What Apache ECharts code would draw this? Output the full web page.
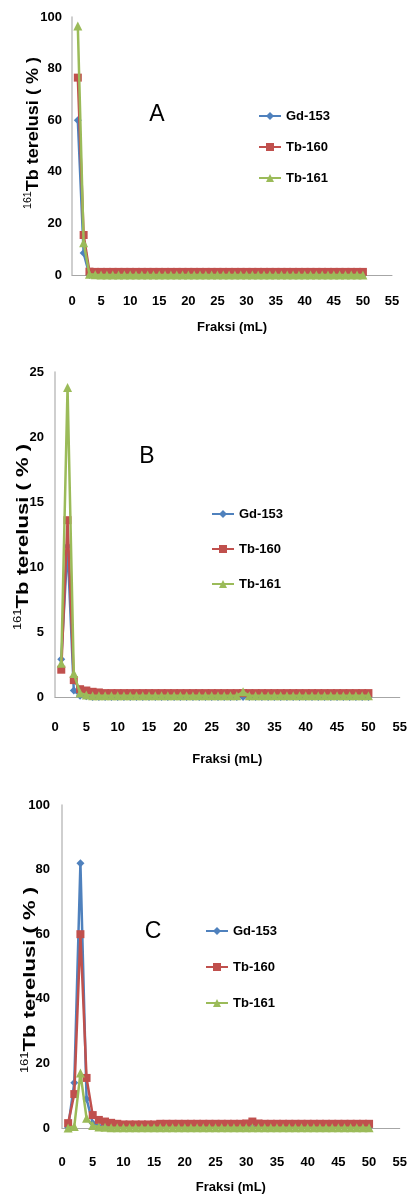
<!DOCTYPE html>
<html>
<head>
<meta charset="utf-8">
<script src="https://cdn.jsdelivr.net/npm/echarts@6/dist/echarts.min.js"></script>
<style>
html,body{margin:0;padding:0;background:#fff;}
#c{width:410px;height:1197px;}
</style>
</head>
<body>
<div id="c"></div>
<script>
// ---- data ----
var fractions = [1,2,3,4,5,6,7,8,9,10,11,12,13,14,15,16,17,18,19,20,21,22,23,24,25,26,27,28,29,30,31,32,33,34,35,36,37,38,39,40,41,42,43,44,45,46,47,48,49,50];
var seriesNames = ['Gd-153','Tb-160','Tb-161'];
var xTicks = [0,5,10,15,20,25,30,35,40,45,50,55];

// Panel A
var gdA    = [60,8.5,0,0,0,0,0,0,0,0,0,0,0,0,0,0,0,0,0,0,0,0,0,0,0,0,0,0,0,0,0,0,0,0,0,0,0,0,0,0,0,0,0,0,0,0,0,0,0,0];
var tb160A = [76.5,15.5,1.3,1.2,1.2,1.2,1.2,1.2,1.2,1.2,1.2,1.2,1.2,1.2,1.2,1.2,1.2,1.2,1.2,1.2,1.2,1.2,1.2,1.2,1.2,1.2,1.2,1.2,1.2,1.2,1.2,1.2,1.2,1.2,1.2,1.2,1.2,1.2,1.2,1.2,1.2,1.2,1.2,1.2,1.2,1.2,1.2,1.2,1.2,1.2];
var tb161A = [96.5,12.5,0.3,0.1,0,0,0,0,0,0,0,0,0,0,0,0,0,0,0,0,0,0,0,0,0,0,0,0,0,0,0,0,0,0,0,0,0,0,0,0,0,0,0,0,0,0,0,0,0,0];

// Panel B
var gdB    = [2.9,11.6,0.5,0.1,0.05,0,0,0,0,0,0,0,0,0,0,0,0,0,0,0,0,0,0,0,0,0,0,0,0,0,0,0,0,0,0,0,0,0,0,0,0,0,0,0,0,0,0,0,0,0];
var tb160B = [2.1,13.6,1.3,0.6,0.5,0.4,0.35,0.3,0.3,0.3,0.3,0.3,0.3,0.3,0.3,0.3,0.3,0.3,0.3,0.3,0.3,0.3,0.3,0.3,0.3,0.3,0.3,0.3,0.3,0.3,0.3,0.3,0.3,0.3,0.3,0.3,0.3,0.3,0.3,0.3,0.3,0.3,0.3,0.3,0.3,0.3,0.3,0.3,0.3,0.3];
var tb161B = [2.6,23.8,1.8,0.3,0.15,0.1,0.1,0.1,0.1,0.1,0.1,0.1,0.1,0.1,0.1,0.1,0.1,0.1,0.1,0.1,0.1,0.1,0.1,0.1,0.1,0.1,0.1,0.1,0.1,0.4,0.1,0.1,0.1,0.1,0.1,0.1,0.1,0.1,0.1,0.1,0.1,0.1,0.1,0.1,0.1,0.1,0.1,0.1,0.1,0.1];

// Panel C
var gdC    = [0.2,14,82,9,1.5,0.5,0.3,0.2,0.2,0.2,0.2,0.2,0.2,0.2,0.2,0.2,0.2,0.2,0.2,0.2,0.2,0.2,0.2,0.2,0.2,0.2,0.2,0.2,0.2,0.2,0.2,0.2,0.2,0.2,0.2,0.2,0.2,0.2,0.2,0.2,0.2,0.2,0.2,0.2,0.2,0.2,0.2,0.2,0.2,0.2];
var tb160C = [1.5,10.5,60,15.5,4,2.5,2,1.6,1.3,1.1,1.1,1.1,1.1,1.1,1.1,1.3,1.3,1.3,1.3,1.3,1.3,1.3,1.3,1.3,1.3,1.3,1.3,1.3,1.3,1.4,2,1.4,1.3,1.3,1.3,1.3,1.3,1.3,1.3,1.3,1.3,1.3,1.3,1.3,1.3,1.3,1.3,1.3,1.3,1.3];
var tb161C = [0,0.5,17,3,0.8,0.3,0.2,0.1,0.1,0.1,0.1,0.1,0.1,0.1,0.1,0.1,0.1,0.1,0.1,0.1,0.1,0.1,0.1,0.1,0.1,0.1,0.1,0.1,0.1,0.1,0.1,0.1,0.1,0.1,0.1,0.1,0.1,0.1,0.1,0.1,0.1,0.1,0.1,0.1,0.1,0.1,0.1,0.1,0.1,0.1];

var yTicksA = [0,20,40,60,80,100];
var yTicksB = [0,5,10,15,20,25];
var yTicksC = [0,20,40,60,80,100];

// ---- chart ----
var colors = ['#4F81BD','#C0504D','#9BBB59'];
var symbols = ['diamond','rect','triangle'];
var symSizes = [8,8,9];
var FONT = '"Liberation Sans",Arial,sans-serif';

var panels = [
  {grid:{left:72, top:17, width:320, height:258}, yMax:100, yInt:20, data:[gdA,tb160A,tb161A], xMargin:20, yMargin:10,
   xName:{gap:46}, legend:{left:253, top:103, gap:15, fs:13}},
  {grid:{left:55, top:372, width:346.5, height:325}, yMax:25, yInt:5, data:[gdB,tb160B,tb161B], xMargin:24, yMargin:11,
   xName:{gap:56}, legend:{left:206, top:501, gap:19, fs:13}},
  {grid:{left:62, top:805, width:341, height:323}, yMax:100, yInt:20, data:[gdC,tb160C,tb161C], xMargin:28, yMargin:12,
   xName:{gap:53}, legend:{left:200, top:918, gap:20, fs:13}}
];

var option = {
  backgroundColor:'#fff',
  animation:false,
  grid:[], xAxis:[], yAxis:[], series:[], legend:[],
  graphic:[]
};

panels.forEach(function(p, gi){
  option.grid.push(p.grid);
  option.xAxis.push({
    type:'value', gridIndex:gi, min:0, max:55, interval:5,
    name:'Fraksi (mL)', nameLocation:'middle', nameGap:p.xName.gap,
    nameTextStyle:{fontFamily:FONT, fontWeight:'bold', fontSize:13, color:'#000'},
    axisLine:{show:true, lineStyle:{color:'#A6A6A6', width:1}},
    axisTick:{show:false}, splitLine:{show:false},
    axisLabel:{fontFamily:FONT, fontWeight:'bold', fontSize:13, color:'#000', margin:p.xMargin}
  });
  option.yAxis.push({
    type:'value', gridIndex:gi, min:0, max:p.yMax, interval:p.yInt,
    axisLine:{show:true, lineStyle:{color:'#BFBFBF', width:1.5}},
    axisTick:{show:false}, splitLine:{show:false},
    axisLabel:{fontFamily:FONT, fontWeight:'bold', fontSize:13, color:'#000', margin:p.yMargin}
  });
  seriesNames.forEach(function(n, si){
    option.series.push({
      type:'line', name:n, xAxisIndex:gi, yAxisIndex:gi,
      data: fractions.map(function(x,i){return [x, p.data[si][i]];}),
      symbol:symbols[si], symbolSize:symSizes[si], showAllSymbol:true,
      itemStyle:{color:colors[si]}, lineStyle:{color:colors[si], width:2.5},
      clip:false, z:2+si
    });
  });
  option.legend.push({
    orient:'vertical', left:p.legend.left, top:p.legend.top,
    itemWidth:22, itemHeight:10, itemGap:p.legend.gap,
    data:seriesNames,
    textStyle:{fontFamily:FONT, fontWeight:'bold', fontSize:p.legend.fs, color:'#000', lineHeight:16}
  });
});

var panelLetters = [
  {t:'A', x:157, y:115},
  {t:'B', x:147, y:457},
  {t:'C', x:153, y:932}
];
panelLetters.forEach(function(l){
  option.graphic.push({type:'text', x:l.x, y:l.y,
    style:{text:l.t, fontFamily:FONT, fontSize:23, fill:'#000', align:'center', verticalAlign:'middle'}});
});

var yNames = [
  {x:33, y:133, fs:17, sx:1.06},
  {x:23, y:537, fs:17, sx:1.3},
  {x:30, y:980, fs:17, sx:1.3}
];
yNames.forEach(function(n){
  option.graphic.push({type:'text', x:n.x, y:n.y, rotation:Math.PI/2, scaleX:n.sx, scaleY:1,
    style:{text:'{s|161}{t|Tb terelusi ( % )}', align:'center', verticalAlign:'middle', fill:'#000',
      rich:{
        s:{fontFamily:FONT, fontSize:10, verticalAlign:'top', lineHeight:n.fs+2, fill:'#000'},
        t:{fontFamily:FONT, fontWeight:'bold', fontSize:n.fs, lineHeight:n.fs+2, fill:'#000'}
      }}});
});

var chart = echarts.init(document.getElementById('c'), null, {renderer:'canvas'});
chart.setOption(option);
</script>
</body>
</html>
